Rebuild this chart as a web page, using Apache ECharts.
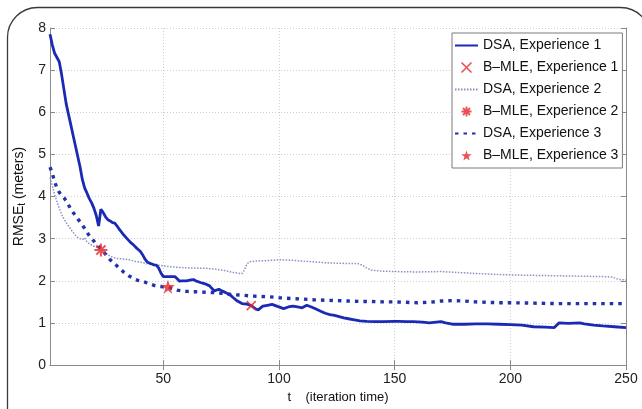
<!DOCTYPE html>
<html>
<head>
<meta charset="utf-8">
<script src="https://cdn.jsdelivr.net/npm/echarts@6/dist/echarts.min.js"></script>
<style>
html,body{margin:0;padding:0;background:#fff;}
#c{width:642px;height:409px;}
</style>
</head>
<body>
<div id="c"></div>
<script>
// ---- data ----
const xTicks = [50, 100, 150, 200, 250];
const yTicks = [0, 1, 2, 3, 4, 5, 6, 7, 8];

const seriesNames = ['DSA, Experience 1', 'B–MLE, Experience 1', 'DSA, Experience 2',
                     'B–MLE, Experience 2', 'DSA, Experience 3', 'B–MLE, Experience 3'];

const dsa1T = [1,2,3,4,5,6,7,8,9,10,11,12,13,14,15,16,17,18,19,20,21,22,23,24,25,26,27,28,29,30,31,32,33,34,35,36,37,38,39,40,41,42,43,44,45,46,47,48,49,50,52,54,55,56,57,58,60,62,63,64,66,68,70,72,74,75,77,79,80,82,84,86,88,90,91,93,95,97,99,102,104,106,108,110,112,114,116,118,120,122,124,126,128,130,132,135,138,142,145,150,152,155,158,162,165,168,170,172,175,180,185,190,195,200,205,210,215,219,221,225,230,232,236,240,245,250];
const dsa1Y = [7.85,7.6,7.4,7.3,7.2,6.9,6.55,6.2,5.95,5.7,5.45,5.2,4.95,4.7,4.4,4.2,4.08,3.95,3.85,3.72,3.55,3.3,3.7,3.62,3.52,3.45,3.42,3.38,3.37,3.3,3.22,3.15,3.08,3.02,2.96,2.9,2.86,2.8,2.75,2.7,2.62,2.52,2.45,2.42,2.4,2.38,2.37,2.3,2.18,2.1,2.1,2.1,2.1,2.05,1.99,2.0,2.0,2.02,2.03,2.0,1.96,1.93,1.88,1.76,1.8,1.77,1.72,1.66,1.61,1.52,1.46,1.45,1.41,1.33,1.31,1.4,1.42,1.44,1.4,1.34,1.38,1.4,1.38,1.36,1.42,1.38,1.33,1.28,1.23,1.2,1.18,1.15,1.12,1.1,1.08,1.05,1.04,1.03,1.03,1.04,1.04,1.03,1.03,1.02,1.0,1.02,1.03,1.0,0.97,0.97,0.98,0.98,0.97,0.96,0.95,0.91,0.9,0.89,1.0,0.99,1.0,0.98,0.95,0.93,0.91,0.89];

const dsa2T = [1,2,3,4,5,6,7,8,9,10,11,12,13,14,15,16,17,18,19,20,22,24,26,28,30,32,34,36,38,40,44,48,52,56,60,64,68,72,76,80,84,85,86,87,90,95,100,105,110,115,120,125,130,134,136,138,140,145,150,160,170,180,190,200,210,220,230,240,244,247,250];
const dsa2Y = [4.45,4.25,4.05,3.88,3.72,3.58,3.47,3.38,3.3,3.22,3.15,3.08,3.03,3.0,2.98,3.02,2.92,2.88,2.85,2.82,2.78,2.72,2.62,2.56,2.53,2.52,2.51,2.49,2.46,2.44,2.4,2.37,2.34,2.32,2.31,2.3,2.3,2.28,2.25,2.2,2.17,2.25,2.38,2.45,2.47,2.48,2.5,2.49,2.47,2.45,2.43,2.42,2.41,2.41,2.37,2.3,2.25,2.23,2.22,2.21,2.22,2.19,2.16,2.14,2.13,2.12,2.11,2.1,2.09,2.03,2.02];

const dsa3T = [1,2,3,4,5,6,7,8,9,10,11,12,13,14,15,16,17,18,19,20,21,22,23,24,25,26,27,28,29,30,31,32,33,34,35,36,37,38,39,40,42,44,46,48,50,52,54,56,58,60,64,68,72,76,80,84,88,92,96,100,105,110,115,120,125,130,135,140,145,150,155,160,165,170,175,180,185,190,195,200,210,220,230,240,250];
const dsa3Y = [4.7,4.55,4.35,4.2,4.1,4.02,3.97,3.9,3.8,3.7,3.62,3.55,3.47,3.4,3.32,3.24,3.15,3.07,3.0,2.94,2.87,2.81,2.76,2.7,2.63,2.56,2.5,2.45,2.4,2.35,2.3,2.25,2.2,2.16,2.12,2.09,2.06,2.03,2.01,2.0,1.97,1.93,1.89,1.87,1.86,1.85,1.82,1.78,1.76,1.75,1.74,1.73,1.72,1.7,1.67,1.66,1.64,1.63,1.62,1.6,1.58,1.57,1.55,1.54,1.53,1.52,1.51,1.51,1.5,1.5,1.49,1.48,1.49,1.52,1.53,1.52,1.5,1.49,1.48,1.48,1.47,1.46,1.46,1.46,1.46];

const bmle1T = [88];  const bmle1Y = [1.41];
const bmle2T = [23];  const bmle2Y = [2.73];
const bmle3T = [52];  const bmle3Y = [1.86];

// ---- helpers ----
const pairs = (t, y) => t.map((v, i) => [v, y[i]]);
const FONT = 'Liberation Sans, Arial, Helvetica, sans-serif';
const RED = '#e3262b';
const XPATH = 'path://M0,0L10,10M10,0L0,10';
const ASTPATH = 'path://M5,0L5,10M0,5L10,5M1.5,1.5L8.5,8.5M8.5,1.5L1.5,8.5';
const STARPATH = 'path://M10,0L12.25,6.91L19.51,6.91L13.63,11.18L15.88,18.09L10,13.82L4.12,18.09L6.37,11.18L0.49,6.91L7.76,6.91Z';
const HIDE = {color: 'rgba(0,0,0,0)', borderColor: 'rgba(0,0,0,0)', borderWidth: 0, opacity: 0};

const chart = echarts.init(document.getElementById('c'), null, {renderer: 'canvas'});
const option = {
  animation: false,
  backgroundColor: '#ffffff',
  textStyle: {fontFamily: FONT},
  grid: {left: 50, right: 16, top: 28, bottom: 30, containLabel: false},
  graphic: [{
    type: 'rect', z: -10, silent: true,
    shape: {x: 7.5, y: 7.5, width: 643, height: 460, r: 30},
    style: {fill: 'none', stroke: '#3a3a3a', lineWidth: 1.3}
  }],
  legend: {
    orient: 'vertical', left: 452, top: 33,
    backgroundColor: '#ffffff', borderColor: '#7a7a7a', borderWidth: 1,
    padding: [5, 4, 5, 2], itemGap: 7, itemWidth: 23, itemHeight: 10,
    textStyle: {fontSize: 14, color: '#111', fontFamily: FONT, lineHeight: 15},
    data: [
      {name: seriesNames[0], itemStyle: HIDE},
      {name: seriesNames[1], itemStyle: {color: RED, borderColor: RED, borderWidth: 1.6}},
      {name: seriesNames[2], itemStyle: HIDE},
      {name: seriesNames[3], itemStyle: {color: RED, borderColor: RED, borderWidth: 1.8}},
      {name: seriesNames[4], itemStyle: HIDE},
      {name: seriesNames[5], itemStyle: {color: RED, borderColor: RED, borderWidth: 0}}
    ]
  },
  xAxis: [{
    type: 'value', min: 1, max: 250, position: 'bottom',
    name: 't    (iteration time)', nameLocation: 'middle', nameGap: 24,
    nameTextStyle: {fontSize: 13, color: '#111', fontFamily: FONT},
    axisLine: {show: true, lineStyle: {color: '#8a8a8a', width: 1}},
    axisTick: {show: true, inside: true, length: 5, customValues: xTicks, lineStyle: {color: '#8a8a8a'}},
    axisLabel: {show: true, customValues: xTicks, margin: 7, fontSize: 14, color: '#222', fontFamily: FONT},
    splitLine: {show: true, customValues: xTicks, lineStyle: {color: '#cfcfcf', type: [1, 2], width: 1}}
  }, {
    type: 'value', min: 1, max: 250, position: 'top',
    axisLine: {show: true, lineStyle: {color: '#8a8a8a', width: 1}},
    axisTick: {show: true, inside: true, length: 5, customValues: xTicks, lineStyle: {color: '#8a8a8a'}},
    axisLabel: {show: false}, splitLine: {show: false}
  }],
  yAxis: [{
    type: 'value', min: yTicks[0], max: yTicks[yTicks.length - 1], interval: 1, position: 'left',
    name: '{a|RMSE}{s|t}{a| (meters)}', nameLocation: 'middle', nameGap: 11, nameRotate: 90,
    nameTextStyle: {color: '#111', rich: {a: {fontSize: 14, fontFamily: FONT, color: '#111'}, s: {fontSize: 10, fontFamily: FONT, color: '#111', padding: [6, 0, 0, 0]}}},
    axisLine: {show: true, lineStyle: {color: '#8a8a8a', width: 1}},
    axisTick: {show: true, inside: true, length: 5, lineStyle: {color: '#8a8a8a'}},
    axisLabel: {margin: 4, fontSize: 14, color: '#222', fontFamily: FONT},
    splitLine: {show: true, lineStyle: {color: '#cfcfcf', type: [1, 2], width: 1}}
  }, {
    type: 'value', min: yTicks[0], max: yTicks[yTicks.length - 1], interval: 1, position: 'right',
    axisLine: {show: true, lineStyle: {color: '#8a8a8a', width: 1}},
    axisTick: {show: true, inside: true, length: 5, lineStyle: {color: '#8a8a8a'}},
    axisLabel: {show: false}, splitLine: {show: false}
  }],
  series: [
    {name: seriesNames[0], type: 'line', symbol: 'none', data: pairs(dsa1T, dsa1Y), z: 3,
     lineStyle: {color: '#1b2ab5', width: 2.8}, itemStyle: {color: '#1b2ab5'}},
    {name: seriesNames[1], type: 'scatter', symbol: XPATH, symbolSize: 9, data: pairs(bmle1T, bmle1Y), z: 6,
     itemStyle: {color: RED, borderColor: RED, borderWidth: 1.6}},
    {name: seriesNames[2], type: 'line', symbol: 'none', data: pairs(dsa2T, dsa2Y), z: 2,
     lineStyle: {color: '#8a90c6', width: 1.5, type: [1.5, 1.5]}, itemStyle: {color: '#8a90c6'}},
    {name: seriesNames[3], type: 'scatter', symbol: ASTPATH, symbolSize: 13, data: pairs(bmle2T, bmle2Y), z: 6,
     itemStyle: {color: RED, borderColor: RED, borderWidth: 2}},
    {name: seriesNames[4], type: 'line', symbol: 'none', data: pairs(dsa3T, dsa3Y), z: 2,
     lineStyle: {color: '#2233aa', width: 3.4, type: [3.5, 5]}, itemStyle: {color: '#2233aa'}},
    {name: seriesNames[5], type: 'scatter', symbol: STARPATH, symbolSize: 14, data: pairs(bmle3T, bmle3Y), z: 6,
     itemStyle: {color: RED, borderWidth: 0}}
  ]
};
chart.setOption(option);
</script>
</body>
</html>
